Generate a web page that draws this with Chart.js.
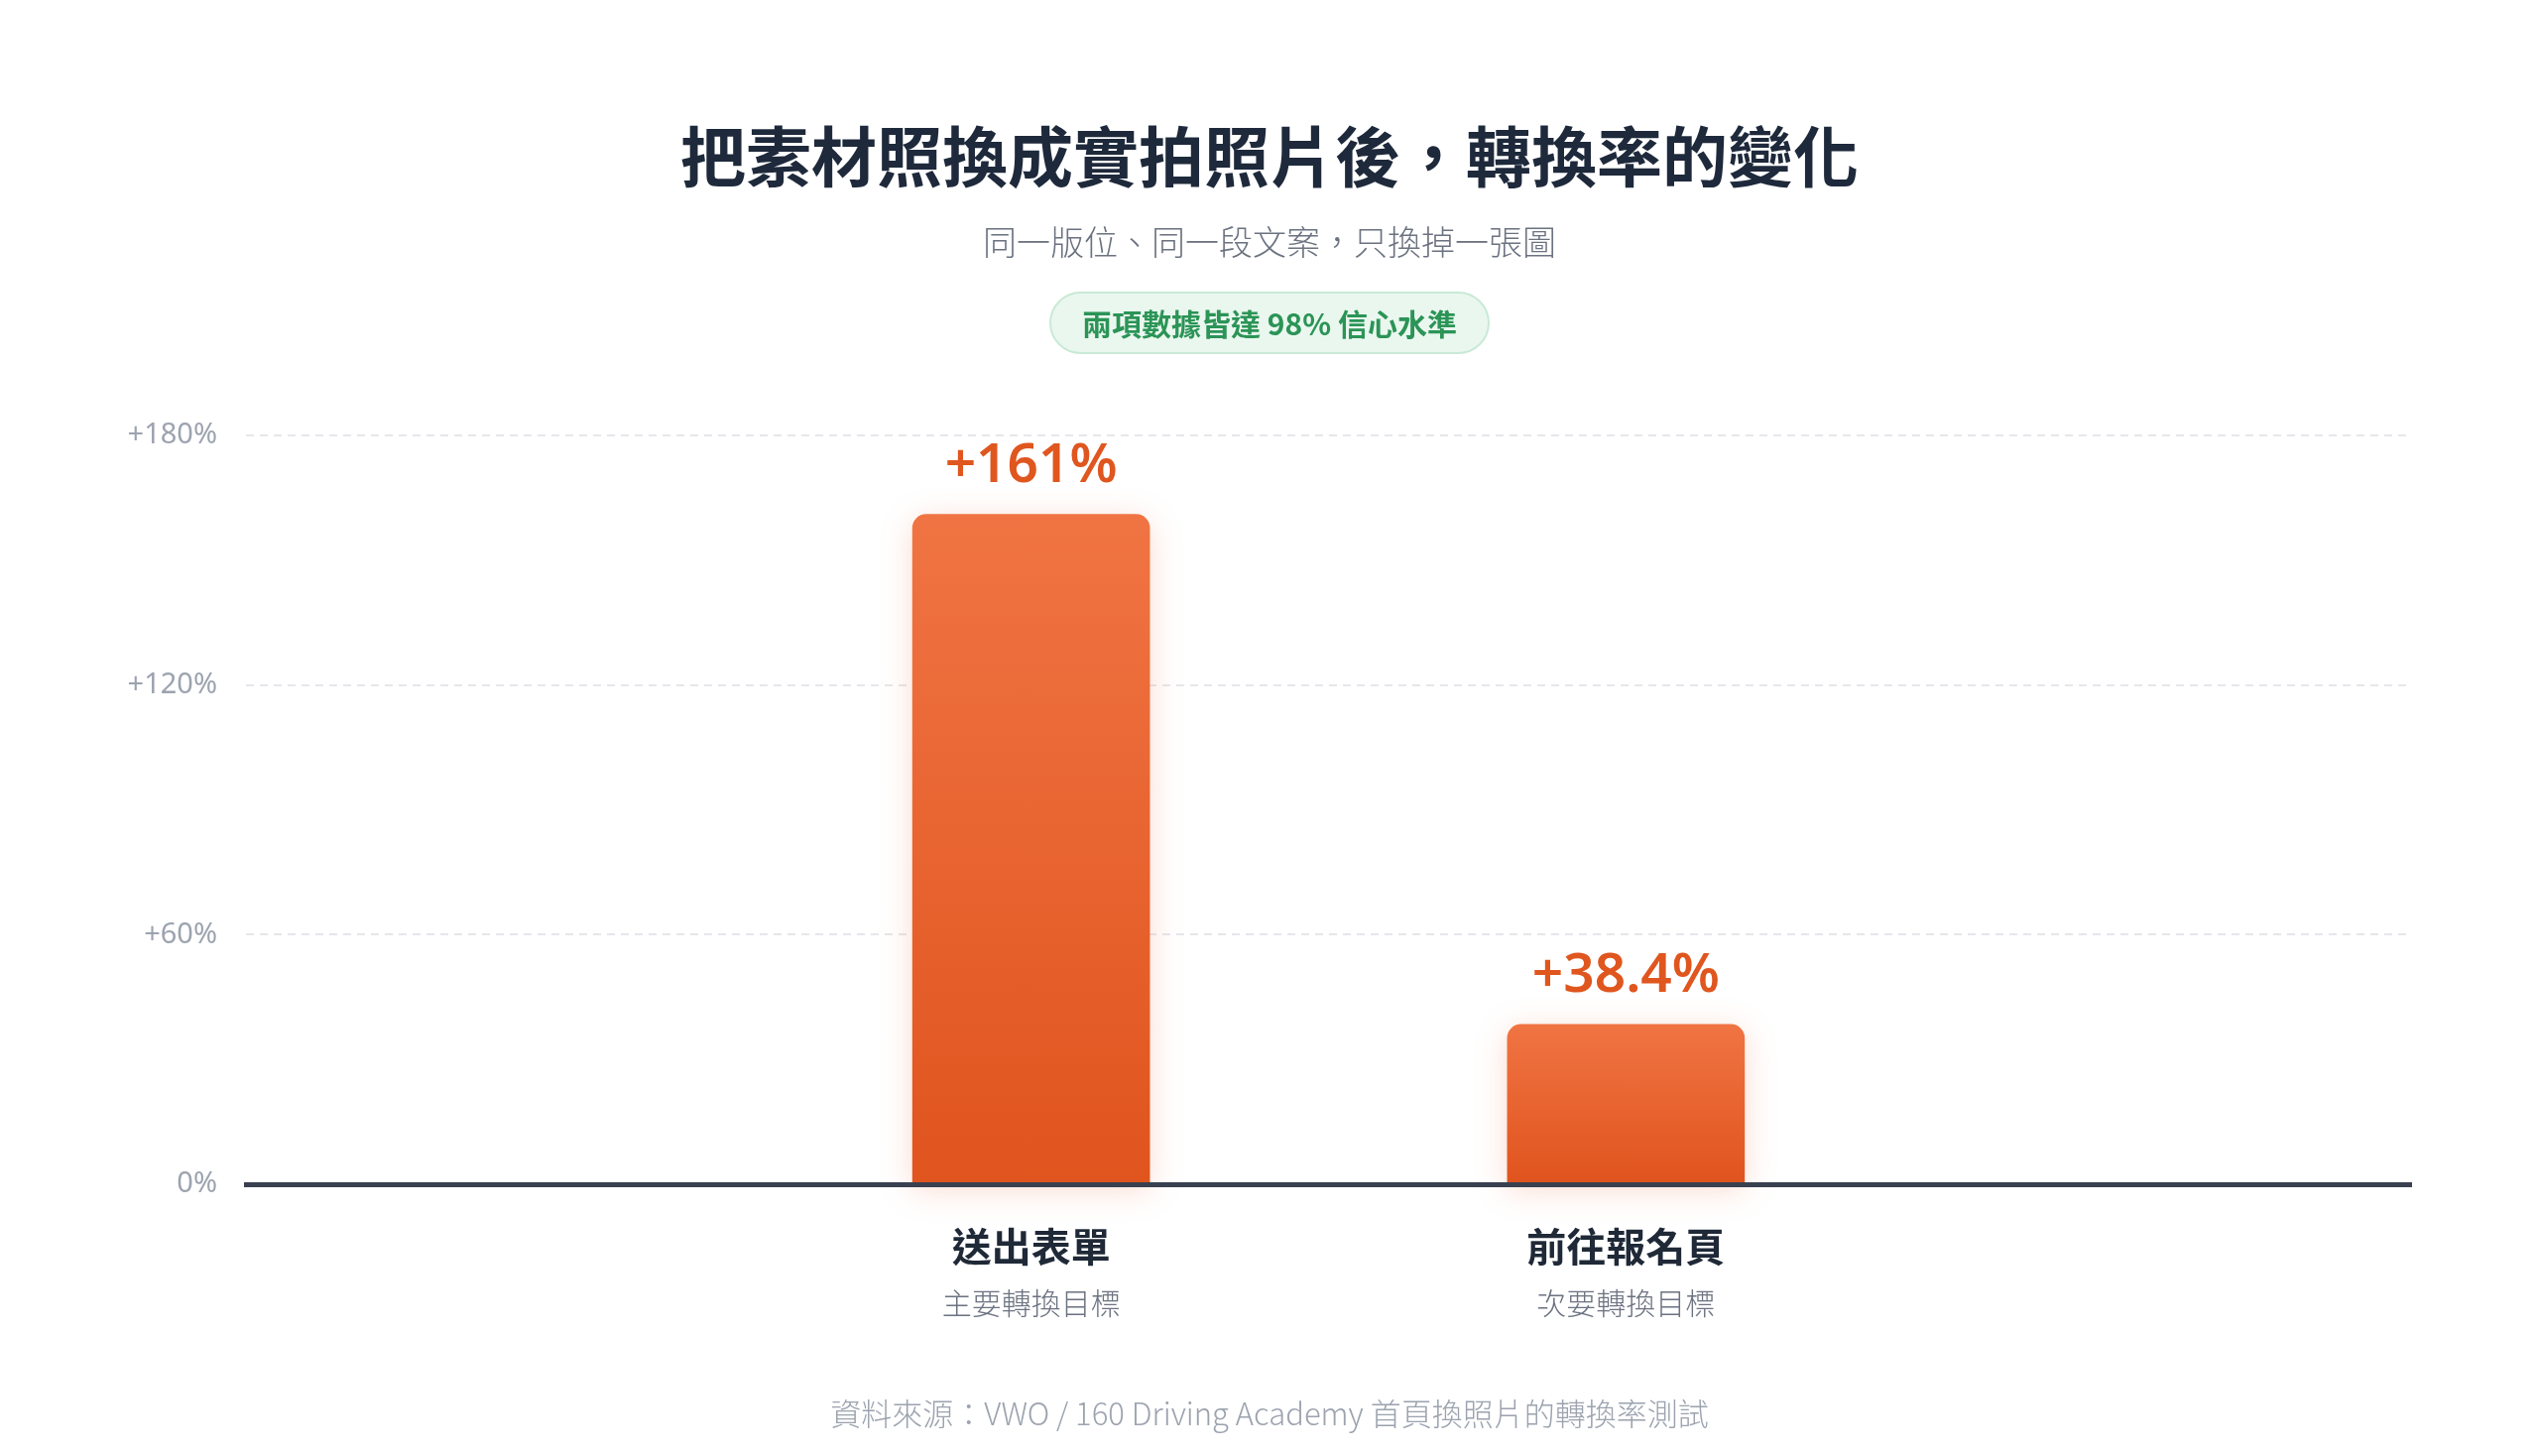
<!DOCTYPE html>
<html lang="zh-Hant">
<head>
<meta charset="utf-8">
<title>把素材照換成實拍照片後，轉換率的變化</title>
<script src="https://cdn.jsdelivr.net/npm/chart.js@4.4.1/dist/chart.umd.min.js"></script>
<style>
  html, body { margin: 0; padding: 0; background: #fff; }
  body { font-family: "Noto Sans CJK TC", "Noto Sans", sans-serif; }
  #wrap { position: relative; width: 2560px; height: 1468px; overflow: hidden; }
  #wrap canvas { position: absolute; left: 0; top: 0; }
  .line { position: absolute; left: 0; width: 2560px; text-align: center; white-space: nowrap; }
  .title { top: 121px; font-size: 66px; line-height: 66px; font-weight: 700; color: #1e293b; }
  .subtitle { top: 226px; font-size: 34px; line-height: 34px; font-weight: 300; color: #6b7280; }
  .badge {
    position: absolute; left: 1058px; top: 294px; width: 444px; height: 63px;
    box-sizing: border-box; border: 2px solid #c9ead6; border-radius: 32px;
    background: #eaf7ef; color: #2b9456; text-align: center;
    font-size: 30px; line-height: 59px; font-weight: 700; white-space: nowrap;
  }
  .source { top: 1408px; font-size: 31px; line-height: 31px; font-weight: 300; color: #9ca3af; }
</style>
</head>
<body>
<div id="wrap">
  <canvas id="liftChart"></canvas>
  <div class="line title">把素材照換成實拍照片後，轉換率的變化</div>
  <div class="line subtitle">同一版位、同一段文案，只換掉一張圖</div>
  <div class="badge">兩項數據皆達 98% 信心水準</div>
  <div class="line source">資料來源：VWO / 160 Driving Academy 首頁換照片的轉換率測試</div>
</div>
<script>
// data
const categories = ['送出表單', '前往報名頁'];
const categoryNotes = ['主要轉換目標', '次要轉換目標'];
const lifts = [161, 38.4];
const yTicks = [0, 60, 120, 180];
const yTickLabels = ['0%', '+60%', '+120%', '+180%'];

const FONT = '"Noto Sans CJK TC", "Noto Sans", sans-serif';
const NUM_FONT = '"Noto Sans", "Noto Sans CJK TC", sans-serif';

// soft orange glow round the bars
const barGlow = {
  id: 'barGlow',
  beforeDatasetsDraw(chart) {
    const ctx = chart.ctx;
    ctx.save();
    ctx.shadowColor = 'rgba(232, 92, 40, 0.22)';
    ctx.shadowBlur = 32;
    ctx.shadowOffsetY = 6;
  },
  afterDatasetsDraw(chart) {
    chart.ctx.restore();
  }
};

// value labels above bars + two-line category labels under the axis
const barText = {
  id: 'barText',
  afterDraw(chart) {
    const {ctx, chartArea, scales: {x}} = chart;
    const meta = chart.getDatasetMeta(0);
    ctx.save();
    ctx.textAlign = 'center';

    ctx.textBaseline = 'alphabetic';
    ctx.font = '600 55px ' + NUM_FONT;
    ctx.fillStyle = '#e0561f';
    meta.data.forEach((bar, i) => {
      ctx.fillText('+' + lifts[i] + '%', bar.x, bar.y - 33);
    });

    ctx.textBaseline = 'middle';
    categories.forEach((name, i) => {
      const px = x.getPixelForValue(i);
      ctx.font = '700 40px ' + FONT;
      ctx.fillStyle = '#1f2937';
      ctx.fillText(name, px, chartArea.bottom + 63);
      ctx.font = '300 30px ' + FONT;
      ctx.fillStyle = '#6b7280';
      ctx.fillText(categoryNotes[i], px, chartArea.bottom + 120);
    });
    ctx.restore();
  }
};

document.addEventListener('DOMContentLoaded', function() {
  const ctx = document.getElementById('liftChart');

  new Chart(ctx, {
    type: 'bar',
    data: {
      datasets: [{
        data: lifts.map((v, i) => ({x: i, y: v})),
        barThickness: 239,
        borderRadius: {topLeft: 14, topRight: 14, bottomLeft: 0, bottomRight: 0},
        borderSkipped: 'start',
        clip: false,
        backgroundColor(c) {
          const chart = c.chart;
          if (!chart.chartArea || c.type !== 'data') return '#e8622f';
          const yScale = chart.scales.y;
          const top = yScale.getPixelForValue(c.parsed.y);
          const bottom = yScale.getPixelForValue(0);
          const g = chart.ctx.createLinearGradient(0, top, 0, bottom);
          g.addColorStop(0, '#f07443');
          g.addColorStop(1, '#e0541e');
          return g;
        }
      }]
    },
    options: {
      responsive: true,
      maintainAspectRatio: false,
      animation: false,
      events: [],
      layout: {
        padding: {top: 439, right: 129, bottom: 274, left: 0}
      },
      plugins: {
        legend: {display: false},
        tooltip: {enabled: false},
        title: {display: false}
      },
      scales: {
        x: {
          type: 'linear',
          offset: false,
          min: -1.32,
          max: 2.32,
          ticks: {display: false},
          grid: {display: false, drawTicks: false},
          border: {display: true, color: '#394150', width: 5, z: 1}
        },
        y: {
          min: 0,
          max: 180,
          afterBuildTicks(scale) {
            scale.ticks = yTicks.map(v => ({value: v}));
          },
          afterFit(scale) {
            scale.width = 248;
          },
          ticks: {
            padding: 29,
            color: '#9ca3af',
            font: {family: NUM_FONT, size: 29},
            callback: (v) => yTickLabels[yTicks.indexOf(v)]
          },
          grid: {
            drawTicks: false,
            lineWidth: 2,
            color: (c) => (c.tick && c.tick.value === 0) ? 'rgba(0,0,0,0)' : '#e5e7eb'
          },
          border: {display: false, dash: [8, 6]}
        }
      }
    },
    plugins: [barGlow, barText]
  });
});
</script>
</body>
</html>
